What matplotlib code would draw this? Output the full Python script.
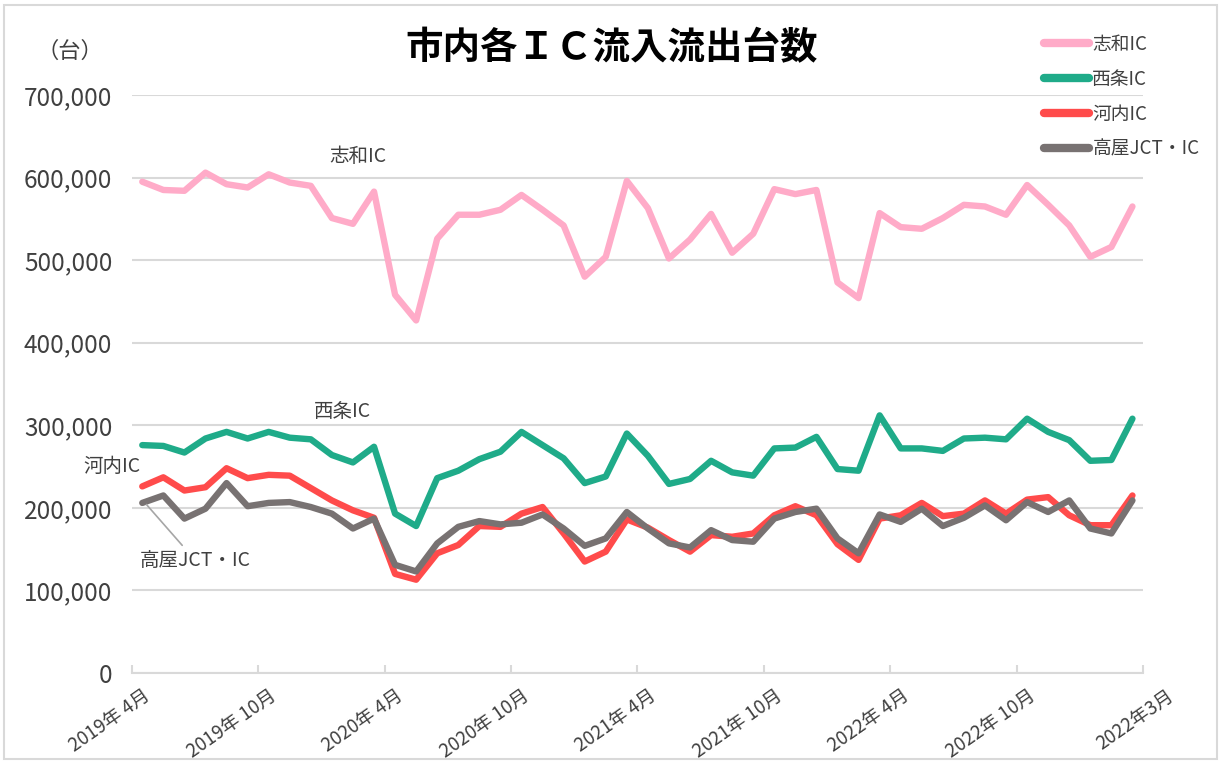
import matplotlib
matplotlib.use('Agg')
import matplotlib.pyplot as plt
from matplotlib.patches import Rectangle
from matplotlib.ticker import FuncFormatter, MultipleLocator, FixedLocator

plt.rcParams['font.family'] = ['Noto Sans CJK JP', 'DejaVu Sans']

# 2019年4月 .. 2023年3月 (48 months)
n_months = 48
tick_labels = ['2019年 4月', '2019年 10月', '2020年 4月', '2020年 10月',
               '2021年 4月', '2021年 10月', '2022年 4月', '2022年 10月']
end_label = '2022年3月'

shiwa = [595, 585, 584, 606, 592, 588, 604, 594, 590, 551, 544, 583,
         458, 427, 526, 555, 555, 561, 579, 561, 542, 480, 504, 596,
         563, 502, 525, 556, 509, 532, 586, 580, 585, 473, 454, 557,
         540, 538, 551, 567, 565, 555, 591, 567, 542, 504, 516, 565]
saijo = [276, 275, 267, 284, 292, 284, 292, 285, 283, 264, 255, 274,
         193, 178, 236, 245, 259, 268, 292, 276, 260, 230, 238, 290,
         263, 229, 235, 257, 243, 239, 272, 273, 286, 247, 245, 312,
         272, 272, 269, 284, 285, 283, 308, 292, 282, 257, 258, 308]
kawachi = [226, 237, 221, 225, 248, 236, 240, 239, 224, 209, 197, 188,
           120, 113, 145, 155, 178, 177, 193, 201, 169, 135, 147, 186,
           176, 161, 147, 167, 165, 169, 191, 202, 191, 156, 137, 187,
           191, 206, 190, 193, 209, 193, 210, 213, 191, 179, 179, 215]
takaya = [206, 215, 187, 199, 230, 202, 206, 207, 201, 193, 175, 187,
          131, 123, 157, 177, 184, 180, 182, 192, 175, 154, 163, 195,
          175, 157, 152, 173, 161, 159, 187, 195, 199, 163, 145, 192,
          183, 199, 178, 188, 203, 185, 207, 195, 209, 175, 169, 209]

series = [('志和IC', shiwa, '#ffabc8'),
          ('西条IC', saijo, '#1fab89'),
          ('河内IC', kawachi, '#ff4b4b'),
          ('高屋JCT・IC', takaya, '#787272')]

fig = plt.figure(figsize=(12.21, 7.62), dpi=100)
ax = fig.add_axes([0.1079, 0.1168, 0.8282, 0.7585])

x = list(range(n_months))
for name, vals, col in series:
    ax.plot(x, [v * 1000 for v in vals], color=col, lw=4.6, label=name,
            solid_joinstyle='round', solid_capstyle='round')

ax.set_xlim(-0.5, n_months - 0.5)
ax.set_ylim(0, 700000)
ax.yaxis.set_major_locator(MultipleLocator(100000))
ax.yaxis.set_major_formatter(FuncFormatter(lambda v, p: f'{int(v):,}'))
ax.grid(axis='y', color='#d9d9d9', lw=1.5)
ax.set_axisbelow(True)
for s in ['top', 'right', 'left']:
    ax.spines[s].set_visible(False)
ax.spines['bottom'].set_color('#d9d9d9')
ax.spines['bottom'].set_linewidth(1.5)

ax.set_xticks(list(range(0, n_months, 6)))
ax.set_xticklabels(tick_labels, rotation=35, ha='right', va='top',
                   rotation_mode='anchor', fontsize=13.5, color='#404040')
ax.xaxis.set_minor_locator(FixedLocator([i - 0.5 for i in range(0, n_months + 1, 6)]))
ax.tick_params(axis='x', which='major', length=0, pad=9)
ax.tick_params(axis='x', which='minor', length=6, direction='in', color='#d9d9d9', width=1.5)
ax.tick_params(axis='y', length=0, labelsize=17.5, labelcolor='#404040', pad=14)

ax.annotate(end_label, xy=(48.6, 0), xycoords=('data', 'axes fraction'),
            xytext=(0, -9), textcoords='offset points', rotation=35,
            ha='right', va='top', rotation_mode='anchor', fontsize=13.5,
            color='#404040', annotation_clip=False)

# series labels in the plot
ax.text(10.24, 626000, '志和IC', ha='center', va='center', fontsize=14, color='#404040')
ax.text(9.48, 317000, '西条IC', ha='center', va='center', fontsize=14, color='#404040')
ax.text(-2.81, 250000, '河内IC', ha='left', va='center', fontsize=14, color='#404040')
ax.annotate('高屋JCT・IC', xy=(0.2, 204000), xytext=(-0.1, 136000),
            ha='left', va='center', fontsize=14, color='#404040',
            arrowprops=dict(arrowstyle='-', color='#a6a6a6', lw=1.2,
                            shrinkA=2, shrinkB=0),
            annotation_clip=False)

fig.text(0.501, 0.937, '市内各ＩＣ流入流出台数', ha='center', va='center',
         fontsize=27, fontweight='bold', color='black')
fig.text(0.057, 0.933, '（台）', ha='center', va='center', fontsize=16, color='#404040')

leg = ax.legend(loc='upper left', bbox_to_anchor=(0.847, 0.968), bbox_transform=fig.transFigure,
                frameon=False, fontsize=13.5, handlelength=2.4, handletextpad=0.2,
                labelspacing=0.75, borderpad=0)
for t in leg.get_texts():
    t.set_color('#404040')
for l in leg.get_lines():
    l.set_linewidth(6)

fig.patches.append(Rectangle((0.003, 0.004), 0.994, 0.99, transform=fig.transFigure,
                             fill=False, edgecolor='#d9d9d9', lw=1.5))

fig.savefig('out.png', dpi=100)
